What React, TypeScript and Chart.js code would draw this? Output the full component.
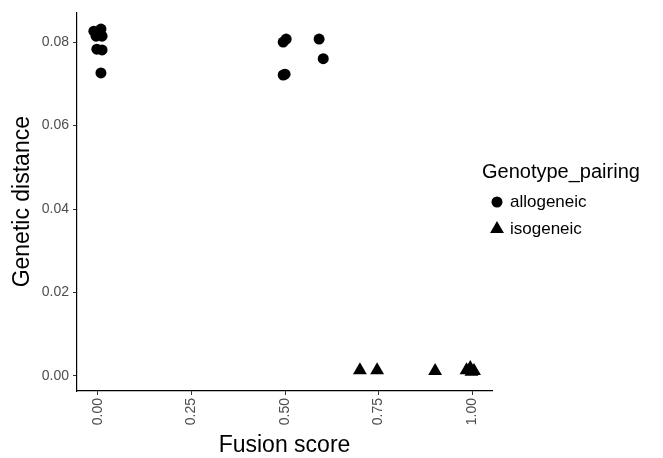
import React, { useEffect, useRef } from "react";
import { Chart, registerables } from "chart.js";

Chart.register(...registerables);

const alloX = [-0.011, 0.008, -0.005, 0.011, -0.003, 0.011, 0.008, 0.495, 0.503, 0.495, 0.5, 0.591, 0.602];
const alloY = [0.0826, 0.0831, 0.0814, 0.0814, 0.0783, 0.0781, 0.0726, 0.08, 0.0807, 0.0721, 0.0723, 0.0807, 0.076];
const isoX = [0.7, 0.746, 0.901, 0.985, 0.995, 1.005, 0.998];
const isoY = [0.0014, 0.0014, 0.0012, 0.0014, 0.0019, 0.0012, 0.001];
const xTicks = [0, 0.25, 0.5, 0.75, 1.0];
const yTicks = [0, 0.02, 0.04, 0.06, 0.08];
const seriesNames = ["allogeneic", "isogeneic"];
const legendTitle = "Genotype_pairing";
const xTitle = "Fusion score";
const yTitle = "Genetic distance";

const FONT = "'Liberation Sans', Arial, sans-serif";

export default function App() {
  const ref = useRef<HTMLCanvasElement | null>(null);
  useEffect(() => {
    if (!ref.current) return;
    const overlay = {
      id: "overlay",
      afterDraw(chart: any) {
        const ctx = chart.ctx;
        const ca = chart.chartArea;
        ctx.save();
        ctx.fillStyle = "#000";
        // axis titles
        ctx.font = `23px ${FONT}`;
        ctx.textAlign = "center";
        ctx.textBaseline = "alphabetic";
        ctx.fillText(xTitle, (ca.left + ca.right) / 2, 452);
        ctx.save();
        ctx.translate(29, (ca.top + ca.bottom) / 2);
        ctx.rotate(-Math.PI / 2);
        ctx.fillText(yTitle, 0, 0);
        ctx.restore();
        // legend
        ctx.textAlign = "left";
        ctx.font = `20px ${FONT}`;
        ctx.fillText(legendTitle, 482, 178);
        ctx.font = `17px ${FONT}`;
        ctx.textBaseline = "middle";
        const ys = [202, 229];
        ctx.beginPath();
        ctx.arc(497, ys[0], 5.5, 0, Math.PI * 2);
        ctx.fill();
        const r = 8;
        ctx.beginPath();
        ctx.moveTo(497, ys[1] - r);
        ctx.lineTo(497 + r * Math.sin(Math.PI * 2 / 3), ys[1] + r / 2);
        ctx.lineTo(497 - r * Math.sin(Math.PI * 2 / 3), ys[1] + r / 2);
        ctx.closePath();
        ctx.fill();
        ctx.fillText(seriesNames[0], 510, ys[0]);
        ctx.fillText(seriesNames[1], 510, ys[1]);
        ctx.restore();
      },
    };
    const chart = new Chart(ref.current, {
      type: "scatter",
      data: {
        datasets: [
          {
            label: seriesNames[0],
            data: alloX.map((x, i) => ({ x, y: alloY[i] })),
            pointStyle: "circle",
            pointRadius: 5.5,
            backgroundColor: "#000",
            borderColor: "#000",
            borderWidth: 0,
          },
          {
            label: seriesNames[1],
            data: isoX.map((x, i) => ({ x, y: isoY[i] })),
            pointStyle: "triangle",
            pointRadius: 8,
            backgroundColor: "#000",
            borderColor: "#000",
            borderWidth: 0,
          },
        ],
      },
      options: {
        responsive: false,
        animation: false,
        layout: { padding: { top: 10, right: 171, left: 0, bottom: 0 } },
        plugins: { legend: { display: false }, tooltip: { enabled: false } },
        scales: {
          x: {
            type: "linear",
            min: -0.056,
            max: 1.053,
            afterBuildTicks: (s: any) => {
              s.ticks = xTicks.map((v) => ({ value: v }));
            },
            afterFit: (s: any) => {
              s.height = 67;
            },
            ticks: {
              minRotation: 90,
              maxRotation: 90,
              color: "#4d4d4d",
              font: { family: FONT, size: 14 },
              padding: 3,
              callback: (v: any) => Number(v).toFixed(2),
            },
            grid: { drawOnChartArea: false, drawTicks: true, tickLength: 4, color: "#333" },
            border: { display: true, color: "#000", width: 1.2 },
          },
          y: {
            type: "linear",
            min: -0.0036,
            max: 0.0871,
            afterBuildTicks: (s: any) => {
              s.ticks = yTicks.map((v) => ({ value: v }));
            },
            afterFit: (s: any) => {
              s.width = 77;
            },
            ticks: {
              color: "#4d4d4d",
              font: { family: FONT, size: 14 },
              padding: 4,
              callback: (v: any) => Number(v).toFixed(2),
            },
            grid: { drawOnChartArea: false, drawTicks: true, tickLength: 4, color: "#333" },
            border: { display: true, color: "#000", width: 1.2 },
          },
        },
      },
      plugins: [overlay],
    } as any);
    return () => chart.destroy();
  }, []);
  return (
    <div style={{ position: "fixed", left: 0, top: 0, width: 663, height: 458, background: "#fff" }}>
      <canvas ref={ref} width={663} height={458} />
    </div>
  );
}
